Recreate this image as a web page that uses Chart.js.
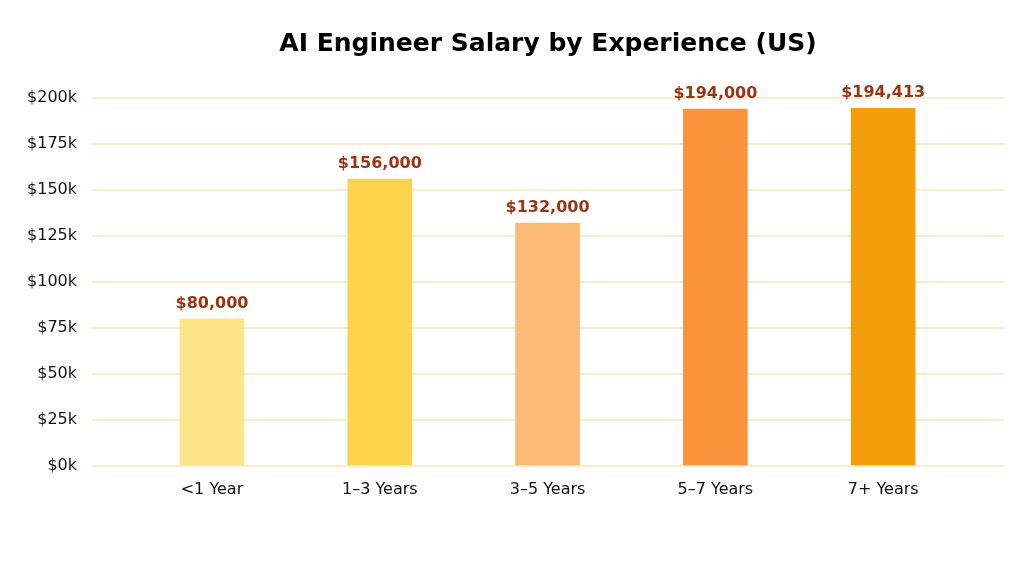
<!DOCTYPE html>
<html>
<head>
<meta charset="utf-8">
<script src="https://cdn.jsdelivr.net/npm/chart.js@4"></script>
<style>
  html, body { margin: 0; padding: 0; background: #fff; }
  #wrap { width: 1024px; height: 569px; }
</style>
</head>
<body>
<div id="wrap"><canvas id="salaryChart"></canvas></div>
<script>
"use strict";
var categories = ["<1 Year", "1\u20133 Years", "3\u20135 Years", "5\u20137 Years", "7+ Years"];
var salaries = [80000, 156000, 132000, 194000, 194413];
var barColors = ["#fde68a", "#fcd34d", "#fdba74", "#fb923c", "#f59e0b"];
var yTicks = [0, 25000, 50000, 75000, 100000, 125000, 150000, 175000, 200000];

// value labels above each bar
var valueLabels = {
  id: "valueLabels",
  afterDatasetsDraw: function (chart) {
    var ctx = chart.ctx;
    var meta = chart.getDatasetMeta(0);
    ctx.save();
    ctx.font = "bold 16px 'DejaVu Sans'";
    ctx.fillStyle = "#9a3412";
    ctx.textAlign = "center";
    ctx.textBaseline = "bottom";
    meta.data.forEach(function (bar, i) {
      ctx.fillText("$" + salaries[i].toLocaleString("en-US"), bar.x, bar.y - 7);
    });
    ctx.restore();
  },
};

new Chart(document.getElementById("salaryChart"), {
  type: "bar",
  data: {
    datasets: [
      {
        data: salaries.map(function (v, i) { return { x: i, y: v }; }),
        backgroundColor: barColors,
        borderWidth: 0,
        barThickness: 64,
      },
    ],
  },
  plugins: [valueLabels],
  options: {
    responsive: true,
    maintainAspectRatio: false,
    animation: false,
    layout: { padding: { left: 0, right: 20, top: 14, bottom: 0 } },
    plugins: {
      legend: { display: false },
      tooltip: { enabled: false },
      title: {
        display: true,
        fullSize: false,
        text: "AI Engineer Salary by Experience (US)",
        color: "#000",
        font: { family: "'DejaVu Sans'", size: 25, weight: "bold" },
        padding: { top: 15, bottom: 39 },
      },
    },
    scales: {
      x: {
        type: "linear",
        offset: false,
        min: -0.715,
        max: 4.72,
        afterBuildTicks: function (scale) {
          scale.ticks = categories.map(function (c, i) { return { value: i }; });
        },
        afterFit: function (scale) { scale.height = 103; },
        grid: { display: false },
        border: { display: false },
        ticks: {
          color: "#111",
          padding: 6,
          maxRotation: 0,
          autoSkip: false,
          font: { family: "'DejaVu Sans'", size: 16 },
          callback: function (v) { return categories[v]; },
        },
      },
      y: {
        min: 0,
        max: 200000,
        afterBuildTicks: function (scale) {
          scale.ticks = yTicks.map(function (v) { return { value: v }; });
        },
        afterFit: function (scale) { scale.width = 92; },
        grid: { color: "#fdebcf", lineWidth: 2, drawTicks: false },
        border: { display: false },
        ticks: {
          color: "#111",
          padding: 15,
          font: { family: "'DejaVu Sans'", size: 16 },
          callback: function (v) { return "$" + v / 1000 + "k"; },
        },
      },
    },
  },
});
</script>
</body>
</html>
